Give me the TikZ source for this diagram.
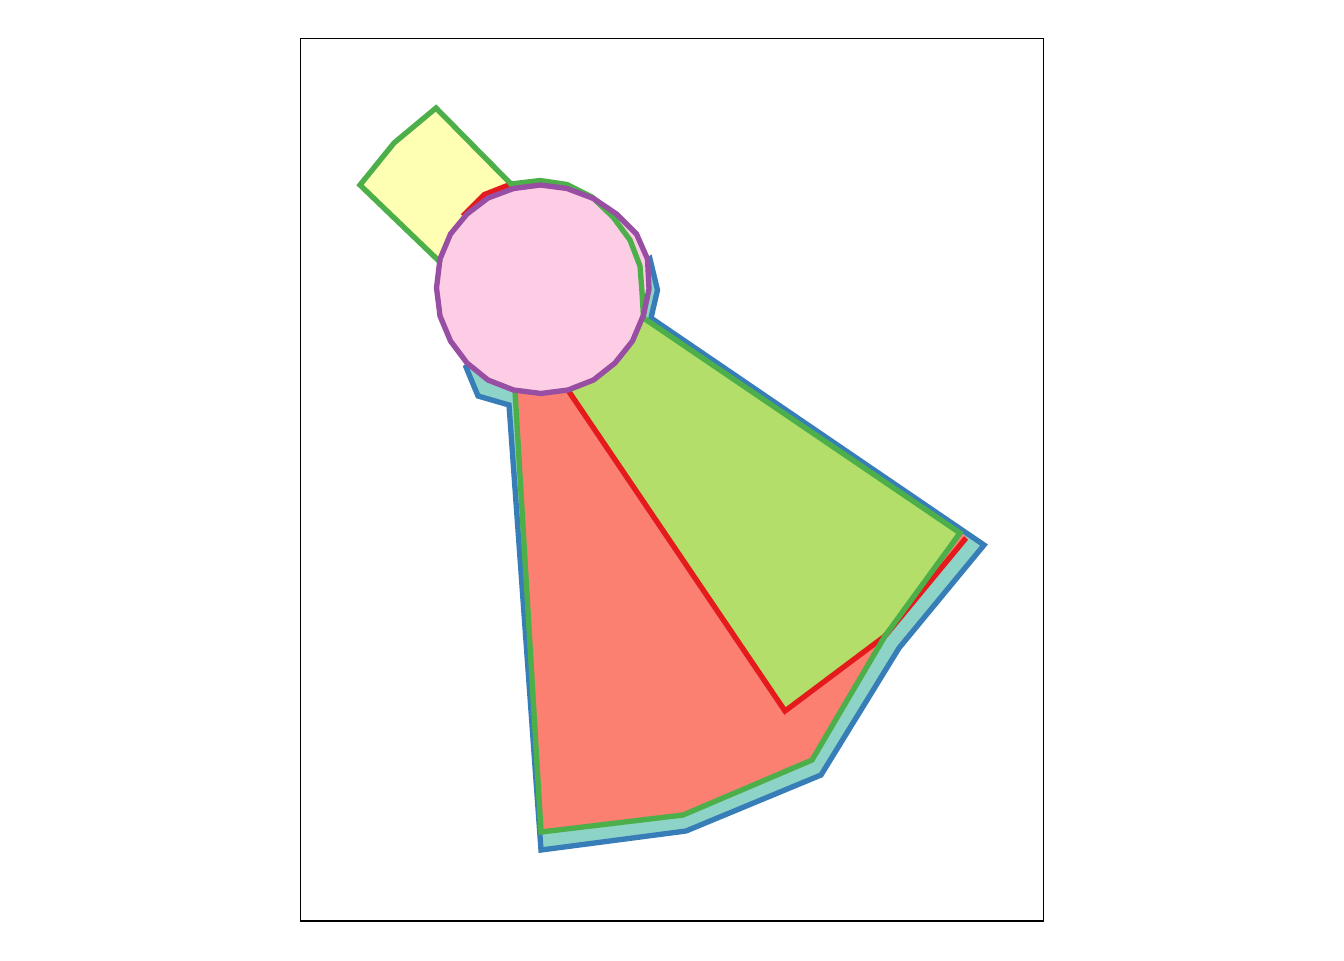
\documentclass[tikz,border=0pt]{standalone}
\definecolor{tealf}{HTML}{8DD3C7}
\definecolor{bluec}{HTML}{377EB8}
\definecolor{salmonf}{HTML}{FB8072}
\definecolor{redc}{HTML}{E41A1C}
\definecolor{lgreenf}{HTML}{B3DE69}
\definecolor{greenc}{HTML}{4DAF4A}
\definecolor{yellowf}{HTML}{FFFFB3}
\definecolor{pinkf}{HTML}{FCCDE5}
\definecolor{purplec}{HTML}{984EA3}
\tikzset{
  edge/.style={line width=4pt, line join=miter},
}
\begin{document}
\begin{tikzpicture}[x=0.75pt,y=-0.75pt]
\useasboundingbox (0,0) rectangle (1344,960);
% frame
\draw[line width=1.1pt, black] (300.5,38.5) rectangle (1043.5,921);
% circle polygon
\def\circpath{(649,289) -- (647.5,259) -- (636.5,234) -- (616.5,214) -- (593.5,198.5) -- (567,188.5) -- (540.5,185) -- (513.5,188.5) -- (488,198) -- (467,214) -- (450.5,234) -- (440,259) -- (436.5,288) -- (440,316) -- (450.5,341) -- (467,363) -- (488,380) -- (513.5,390) -- (541,393.5) -- (568,390) -- (593.5,380) -- (615,363) -- (632.5,341) -- (643.5,315) -- cycle}
% fills
\fill[tealf] (466,367) -- (478,396) -- (509,405) -- (541,850) -- (686,831) -- (821,775) -- (899,648) -- (984,545) -- (651,318) -- (657.5,290) -- (650,258) -- (542,289) -- cycle;
\fill[yellowf] (441,263) -- (360,185) -- (394,143) -- (436,108) -- (511,184) -- (542,289) -- cycle;
\fill[lgreenf] (542,289) -- (643.5,318) -- (960,533) -- (885,636) -- (785,711) -- (568,390) -- cycle;
\fill[salmonf] (542,289) -- (568,390) -- (785,711) -- (885,636) -- (812,760) -- (683,815) -- (541,832) -- (515,391) -- cycle;
\fill[salmonf] (885,636) -- (967,537) -- (960,533) -- cycle;
\fill[salmonf] (542,289) -- (465,214) -- (484.5,194.5) -- (510,184.5) -- cycle;
% red edges
\draw[edge, redc] (520,250) -- (465,214) -- (484.5,194.5) -- (510,184.5) -- (530,240);
\draw[edge, redc] (555,371) -- (785,711) -- (885,636) -- (966,538);
% blue edge
\draw[edge, bluec] (520,320) -- (466,367) -- (478,396) -- (509,405) -- (541,850) -- (686,831) -- (821,775) -- (899,648) -- (984,545) -- (651,318) -- (657.5,290) -- (650,259) -- (630,275);
% pink fill
\fill[pinkf] \circpath;
% green edge
\draw[edge, greenc] (441,263) -- (360,185) -- (394,143) -- (436,108) -- (511,184) -- (540,180.5) -- (567,184.5) -- (592,197) -- (613,217) -- (630,240) -- (640,266) -- (642,292) -- (643.5,318) -- (960,533) -- (885,636) -- (812,760) -- (683,815) -- (541,832) -- (515,391);
% purple edge
\draw[edge, purplec] \circpath;
\end{tikzpicture}
\end{document}
